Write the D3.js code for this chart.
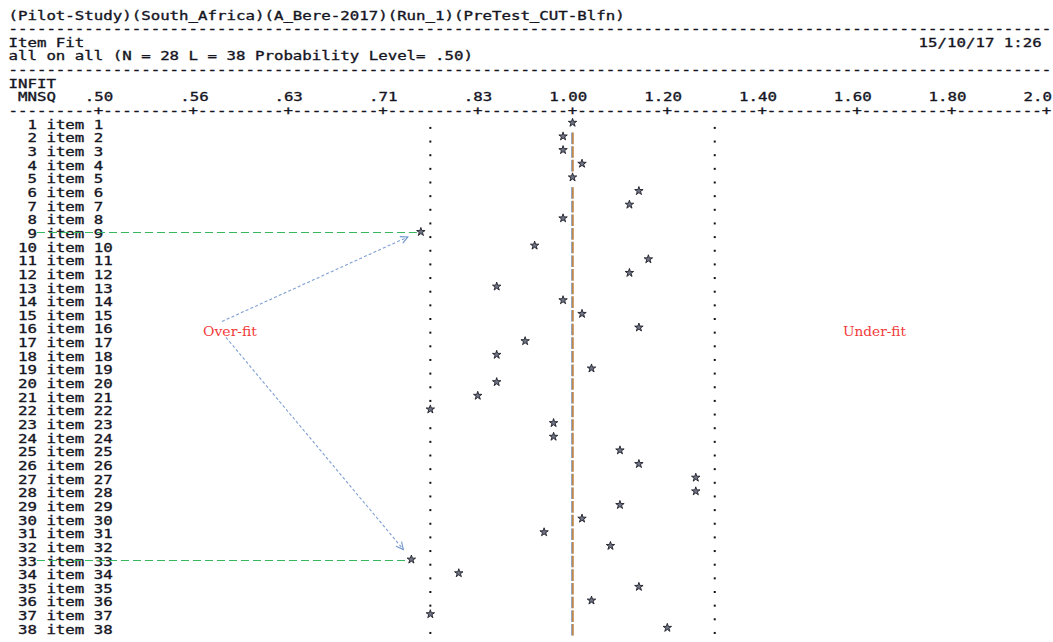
<!DOCTYPE html>
<html><head><meta charset="utf-8">
<script src="https://cdn.jsdelivr.net/npm/d3@7/dist/d3.min.js"></script>
<style>
html,body{margin:0;padding:0;background:#fff;}
svg text{white-space:pre;}
</style></head>
<body>
<svg id="c" width="1053" height="642"></svg>
<script>
// ---------------- data ----------------
const headerTitle = "(Pilot-Study)(South_Africa)(A_Bere-2017)(Run_1)(PreTest_CUT-Blfn)";
const subTitle1 = "Item Fit";
const subTitle2 = "all on all (N = 28 L = 38 Probability Level= .50)";
const dateText = "15/10/17 1:26";
const axisTitle1 = "INFIT";
const axisTitle2 = "MNSQ";
const tickValues = [0.50, 0.556, 0.625, 0.714, 0.833, 1.00, 1.20, 1.40, 1.60, 1.80, 2.00];
const tickLabels = [".50", ".56", ".63", ".71", ".83", "1.00", "1.20", "1.40", "1.60", "1.80", "2.0"];
const itemNumbers = [1,2,3,4,5,6,7,8,9,10,11,12,13,14,15,16,17,18,19,20,21,22,23,24,25,26,27,28,29,30,31,32,33,34,35,36,37,38];
const itemNames = itemNumbers.map(n => "item " + n);
const infitMnsq = [1.00,0.98,0.98,1.02,1.00,1.14,1.12,0.98,0.76,0.93,1.16,1.12,0.86,0.98,1.02,1.14,0.91,0.86,1.04,0.86,0.83,0.77,0.96,0.96,1.10,1.14,1.26,1.26,1.10,1.02,0.94,1.08,0.75,0.81,1.14,1.04,0.77,1.20];
const controlLimits = [0.77, 1.30];
const centerValue = 1.00;
const highlighted = [9, 33];
const overLabel = "Over-fit";
const underLabel = "Under-fit";

// ---------------- layout ----------------
const W = 1053, H = 642;
const x0 = -1, cw = 9.48, lh = 13.65, base0 = 19.5;
const baseline = L => base0 + L * lh;
const colLeft = c => x0 + c * cw;
const colCenter = c => x0 + (c + 0.5) * cw;
const FONT = "'DejaVu Sans Mono', 'Liberation Mono', monospace";
const FS = 11.7;
const INK = "#15151f";
const SW = 0.32;

const svg = d3.select("#c");
svg.append("rect").attr("width", W).attr("height", H).attr("fill", "#fff");

// Winsteps-style MNSQ transform: linear above 1, reciprocal-mirrored below 1
const tf = v => v >= 1 ? v - 1 : 1 - 1 / v;
const xT = d3.scaleLinear().domain([-1, 1]).range([colCenter(10), colCenter(110)]);
const x = v => xT(tf(v));
const colOf = v => Math.round((x(v) - x0) / cw - 0.5);
const xs = v => colCenter(colOf(v));

function txt(col, line, str, g) {
  return (g || svg).append("text")
    .attr("x", colLeft(col)).attr("y", baseline(line))
    .attr("font-family", FONT).attr("font-size", FS).attr("fill", INK)
    .attr("stroke", INK).attr("stroke-width", SW)
    .attr("textLength", str.length * cw).attr("lengthAdjust", "spacingAndGlyphs")
    .text(str);
}

// header block
txt(1, 0, headerTitle);
txt(1, 1, "-".repeat(110));
txt(1, 2, subTitle1);
txt(97, 2, dateText);
txt(1, 3, subTitle2);
txt(1, 4, "-".repeat(110));
txt(1, 5, axisTitle1);
txt(2, 6, axisTitle2);

// axis labels via d3 axis
const axisScale = d3.scaleLinear().domain([-1, 1]).range(xT.range());
const axisG = svg.append("g").attr("transform", `translate(0,${baseline(6)})`)
  .call(d3.axisTop(axisScale)
    .tickValues(tickValues.map(tf))
    .tickFormat((d, i) => tickLabels[i])
    .tickSize(0).tickPadding(0));
axisG.select(".domain").remove();
axisG.selectAll(".tick text")
  .attr("font-family", FONT).attr("font-size", FS).attr("fill", INK)
  .attr("stroke", INK).attr("stroke-width", SW)
  .attr("text-anchor", "end").attr("dy", 0).attr("y", 0)
  .attr("x", d => Math.min(1.5 * cw, W - 1.5 - axisScale(d)))
  .each(function() {
    const s = d3.select(this).text();
    d3.select(this).attr("textLength", s.length * cw).attr("lengthAdjust", "spacingAndGlyphs");
  });
axisG.attr("font-family", null).attr("font-size", null);

// axis rule line with "+" at ticks
const tickCols = new Set(tickValues.map(colOf));
let rule = "";
for (let c = 1; c <= 110; c++) rule += tickCols.has(c) ? "+" : "-";
txt(1, 7, rule);

// rows
const rows = itemNumbers.map((n, i) => ({ n, name: itemNames[i], v: infitMnsq[i], line: 8 + i }));
const rowG = svg.append("g");
rows.forEach(r => {
  txt(0, r.line, String(r.n).padStart(4, " ") + " " + r.name, rowG);
});

const starCol = r => colOf(r.v);
const cCol = colOf(centerValue);
const limCols = controlLimits.map(colOf);

// control-limit dots
limCols.forEach(lc => {
  rowG.selectAll(null).data(rows.filter(r => starCol(r) !== lc)).join("rect")
    .attr("x", colCenter(lc) - 1).attr("y", r => baseline(r.line) - 1.8)
    .attr("width", 2).attr("height", 2).attr("fill", "#111");
});

// centre bar
const barRows = rows.filter(r => starCol(r) !== cCol);
rowG.selectAll(null).data(barRows).join("line")
  .attr("x1", colCenter(cCol) - 0.7).attr("x2", colCenter(cCol) - 0.7)
  .attr("y1", r => baseline(r.line) - 9.8).attr("y2", r => baseline(r.line) + 1.8)
  .attr("stroke", "#4f6c9c").attr("stroke-width", 0.9);
rowG.selectAll(null).data(barRows).join("line")
  .attr("x1", colCenter(cCol) + 0.4).attr("x2", colCenter(cCol) + 0.4)
  .attr("y1", r => baseline(r.line) - 9.8).attr("y2", r => baseline(r.line) + 1.8)
  .attr("stroke", "#b8782f").attr("stroke-width", 1.5);

// stars
const star = d3.symbol().type(d3.symbolStar).size(22);
rowG.selectAll(null).data(rows).join("path")
  .attr("d", star)
  .attr("transform", r => `translate(${xs(r.v)},${baseline(r.line) - 6})`)
  .attr("fill", "#6f7585").attr("stroke", "#1e1e28").attr("stroke-width", 0.9);

// ---------------- annotations ----------------
const ann = svg.append("g");
const hl = rows.filter(r => highlighted.includes(r.n));
ann.selectAll(null).data(hl).join("line")
  .attr("x1", 37).attr("x2", r => xs(r.v) - 4)
  .attr("y1", r => Math.round(baseline(r.line) - 6) + 0.5).attr("y2", r => Math.round(baseline(r.line) - 6) + 0.5)
  .attr("stroke", "#36b95e").attr("stroke-width", 1.2).attr("stroke-dasharray", "8,4");

const defs = svg.append("defs");
defs.append("marker").attr("id", "ah").attr("viewBox", "0 0 10 10")
  .attr("refX", 9).attr("refY", 5).attr("markerWidth", 9).attr("markerHeight", 9)
  .attr("markerUnits", "userSpaceOnUse").attr("orient", "auto")
  .append("path").attr("d", "M1,1 L9,5 L1,9").attr("fill", "none")
  .attr("stroke", "#6f94cf").attr("stroke-width", 1.2);

const labelRow = rows[15];
const labelY = baseline(labelRow.line) - 2;
const arrowStarts = [[222, labelY - 10], [226, labelY + 6]];
const arrowOffsets = [[-13, 5], [-8, -10]];
hl.forEach((r, i) => {
  ann.append("line")
    .attr("x1", arrowStarts[i][0]).attr("y1", arrowStarts[i][1])
    .attr("x2", xs(r.v) + arrowOffsets[i][0]).attr("y2", baseline(r.line) - 6 + arrowOffsets[i][1])
    .attr("stroke", "#7f9fd4").attr("stroke-width", 1.1).attr("stroke-dasharray", "3,2.2")
    .attr("marker-end", "url(#ah)");
});

ann.append("text").attr("x", 203).attr("y", labelY + 4.5)
  .attr("font-family", "'DejaVu Serif', 'Liberation Serif', serif").attr("font-size", 12.5)
  .attr("fill", "#f23a3a").attr("textLength", 54).attr("lengthAdjust", "spacingAndGlyphs")
  .text(overLabel);
ann.append("text").attr("x", 843).attr("y", labelY + 4.5)
  .attr("font-family", "'DejaVu Serif', 'Liberation Serif', serif").attr("font-size", 12.5)
  .attr("fill", "#f23a3a").attr("textLength", 63).attr("lengthAdjust", "spacingAndGlyphs")
  .text(underLabel);
</script>
</body></html>
